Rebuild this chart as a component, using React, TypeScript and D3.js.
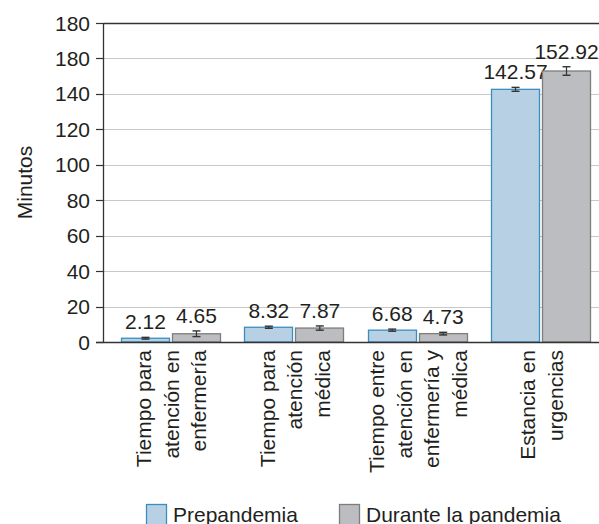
import React from "react";
import * as d3 from "d3";

const categories: string[][] = [
  ["Tiempo para", "atención en", "enfermería"],
  ["Tiempo para", "atención", "médica"],
  ["Tiempo entre", "atención en", "enfermería y", "médica"],
  ["Estancia en", "urgencias"],
];
const seriesNames = ["Prepandemia", "Durante la pandemia"];
const prepandemia = [2.12, 8.32, 6.68, 142.57];
const durante = [4.65, 7.87, 4.73, 152.92];
const prepandemiaErr = [0.5, 0.6, 0.6, 1.1];
const duranteErr = [1.6, 1.2, 0.75, 2.4];
const tickValues = [0, 20, 40, 60, 80, 100, 120, 140, 160, 180];
const tickLabels = ["0", "20", "40", "60", "80", "100", "120", "140", "180", "180"];
const yTitle = "Minutos";

const W = 599;
const H = 524;
const FONT = "'Liberation Sans', Arial, Helvetica, sans-serif";
const TEXT = "#231f20";
const fills = ["#b8d0e4", "#bcbdc0"];
const strokes = ["#3a8dc1", "#7d7d7d"];

export default function App() {
  const y = d3.scaleLinear().domain([0, 180]).range([342, 23]);
  const x0 = d3
    .scaleBand<number>()
    .domain(d3.range(categories.length))
    .range([109.3, 602.7])
    .paddingInner(0.19)
    .paddingOuter(0.095);
  const x1 = d3
    .scaleBand<number>()
    .domain([0, 1])
    .range([0, x0.bandwidth()])
    .paddingInner(0.04);
  const values = [prepandemia, durante];
  const errs = [prepandemiaErr, duranteErr];
  const axisX = 103.5;

  return (
    <svg
      width={W}
      height={H}
      style={{ position: "absolute", left: 0, top: 0, background: "#fff" }}
      fontFamily={FONT}
    >
      {/* gridlines */}
      {tickValues.slice(1, -1).map((t) => (
        <line
          key={"g" + t}
          x1={axisX}
          x2={W}
          y1={Math.round(y(t)) + 0.5}
          y2={Math.round(y(t)) + 0.5}
          stroke="#c8c8c8"
          strokeWidth={1.2}
        />
      ))}
      {/* top frame */}
      <line x1={axisX} x2={W} y1={Math.round(y(180)) + 0.5} y2={Math.round(y(180)) + 0.5} stroke="#333" strokeWidth={1.3} />
      {/* ticks and labels */}
      {tickValues.map((t, i) => (
        <g key={"t" + t}>
          <line
            x1={96}
            x2={axisX}
            y1={Math.round(y(t)) + 0.5}
            y2={Math.round(y(t)) + 0.5}
            stroke="#333"
            strokeWidth={1.2}
          />
          <text x={90} y={y(t) + 7.5} textAnchor="end" fontSize={21} fill={TEXT}>
            {tickLabels[i]}
          </text>
        </g>
      ))}
      {/* bars */}
      {values.map((vals, s) =>
        vals.map((v, i) => {
          const bx = (x0(i) as number) + (x1(s) as number);
          const bw = x1.bandwidth();
          const cx = bx + bw / 2;
          const e = errs[s][i];
          const capW = 8;
          return (
            <g key={`b${s}-${i}`}>
              <rect
                x={Math.round(bx) + 0.5}
                y={y(v)}
                width={Math.round(bw) - 1}
                height={y(0) - y(v)}
                fill={fills[s]}
                stroke={strokes[s]}
                strokeWidth={1.3}
              />
              <line x1={cx} x2={cx} y1={y(v + e)} y2={y(v - e)} stroke="#333" strokeWidth={1.2} />
              <line x1={cx - capW / 2} x2={cx + capW / 2} y1={y(v + e)} y2={y(v + e)} stroke="#333" strokeWidth={1.4} />
              <line x1={cx - capW / 2} x2={cx + capW / 2} y1={y(v - e)} y2={y(v - e)} stroke="#333" strokeWidth={1.4} />
              <text x={cx} y={y(v + e) - 8} textAnchor="middle" fontSize={21} fill={TEXT}>
                {v.toFixed(2)}
              </text>
            </g>
          );
        })
      )}
      {/* axes */}
      <line x1={axisX} x2={axisX} y1={y(180)} y2={y(0) + 0.5} stroke="#333" strokeWidth={1.3} />
      <line x1={96} x2={W} y1={Math.round(y(0)) + 0.5} y2={Math.round(y(0)) + 0.5} stroke="#333" strokeWidth={1.5} />
      {/* category labels */}
      {categories.map((lines, i) => {
        const cx = (x0(i) as number) + x0.bandwidth() / 2;
        const n = lines.length;
        return (
          <g key={"c" + i} transform={`translate(${cx},350) rotate(-90)`}>
            {lines.map((l, j) => (
              <text
                key={j}
                x={0}
                y={(j - (n - 1) / 2) * 27.5 + 8}
                textAnchor="end"
                fontSize={21}
                fill={TEXT}
              >
                {l}
              </text>
            ))}
          </g>
        );
      })}
      {/* y title */}
      <text
        transform={`translate(32,${(y(0) + y(180)) / 2}) rotate(-90)`}
        textAnchor="middle"
        fontSize={21}
        fill={TEXT}
      >
        {yTitle}
      </text>
      {/* legend */}
      {seriesNames.map((name, s) => {
        const lx = s === 0 ? 146.5 : 339.5;
        return (
          <g key={"l" + s}>
            <rect x={lx} y={504.5} width={20} height={21} fill={fills[s]} stroke={strokes[s]} strokeWidth={1.3} />
            <text x={lx + 26.5} y={522} fontSize={21} fill={TEXT}>
              {name}
            </text>
          </g>
        );
      })}
    </svg>
  );
}
